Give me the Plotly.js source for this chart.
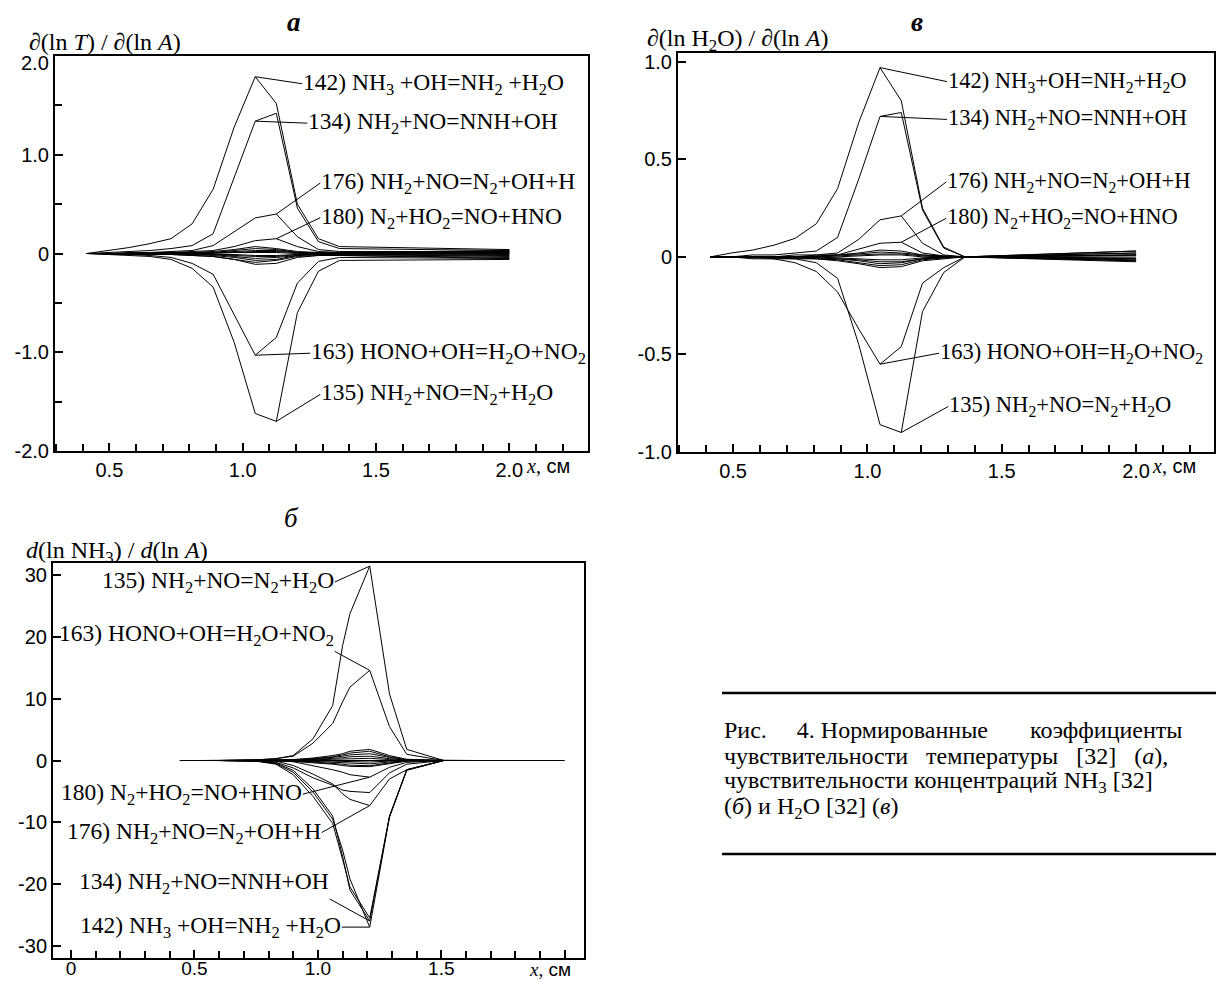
<!DOCTYPE html>
<html><head><meta charset="utf-8">
<script src="https://cdn.plot.ly/plotly-3.0.1.min.js"></script>
<style>html,body{margin:0;padding:0;background:#fff;}#chart{width:1216px;height:981px;}</style>
</head><body><div id="chart"></div>
<script>
// ===== Panel a (temperature) and panel в (H2O): common x grid, cm =====
const xGrid = [0.415, 0.494, 0.573, 0.652, 0.731, 0.810, 0.889, 0.968, 1.047, 1.126, 1.205, 1.284, 1.363, 2.0];

// Panel a: d(lnT)/d(lnA)
const T142 = [0, 0.03, 0.06, 0.10, 0.15, 0.30, 0.65, 1.28, 1.79, 1.52, 0.50, 0.15, 0.07, 0.04];
const T134 = [0, 0.01, 0.02, 0.03, 0.05, 0.08, 0.20, 0.77, 1.34, 1.42, 0.46, 0.12, 0.05, 0.03];
const T176 = [0, 0, 0.01, 0.01, 0.02, 0.03, 0.08, 0.22, 0.36, 0.40, 0.17, 0.04, 0.02, 0.02];
const T180 = [0, 0, 0, 0.01, 0.01, 0.02, 0.03, 0.07, 0.13, 0.15, 0.07, 0.02, 0.01, 0.01];
const T163 = [0, -0.01, -0.01, -0.02, -0.04, -0.10, -0.21, -0.62, -1.03, -0.85, -0.30, -0.08, -0.04, -0.05];
const T135 = [0, -0.01, -0.02, -0.03, -0.06, -0.15, -0.34, -0.90, -1.62, -1.70, -0.60, -0.18, -0.07, -0.06];
const Tsmall = [
  [0, 0, 0, 0, 0.01, 0.01, 0.02, 0.04, 0.07, 0.05, 0.02, 0.01, 0.01, 0.03],
  [0, 0, 0, 0, 0, 0.01, 0.01, 0.03, 0.05, 0.04, 0.01, 0.01, 0.01, 0.02],
  [0, 0, 0, 0, 0, 0, 0.01, 0.02, 0.03, 0.03, 0.01, 0, 0, 0.01],
  [0, 0, 0, 0, 0, 0, 0.01, 0.01, 0.02, 0.02, 0.01, 0, 0, 0.005],
  [0, 0, 0, 0, 0, 0, 0, 0.01, 0.01, 0.01, 0, 0, 0, 0],
  [0, 0, 0, 0, 0, 0, -0.01, -0.01, -0.02, -0.02, -0.01, 0, 0, -0.01],
  [0, 0, 0, 0, 0, -0.01, -0.01, -0.02, -0.03, -0.03, -0.01, -0.01, -0.01, -0.015],
  [0, 0, 0, 0, -0.01, -0.01, -0.01, -0.03, -0.05, -0.04, -0.02, -0.01, -0.01, -0.02],
  [0, 0, 0, -0.01, -0.01, -0.01, -0.02, -0.04, -0.07, -0.06, -0.02, -0.01, -0.01, -0.03],
  [0, 0, -0.01, -0.01, -0.01, -0.02, -0.03, -0.06, -0.09, -0.07, -0.03, -0.02, -0.02, -0.04],
  [0, 0, 0, -0.01, -0.01, -0.02, -0.03, -0.06, -0.11, -0.10, -0.04, -0.02, -0.02, -0.05]
];

// Panel в: d(lnH2O)/d(lnA)
const W142 = [0, 0.02, 0.035, 0.06, 0.095, 0.17, 0.35, 0.69, 0.97, 0.80, 0.25, 0.05, 0, 0.03];
const W134 = [0, 0, 0.01, 0.01, 0.02, 0.03, 0.10, 0.40, 0.72, 0.74, 0.24, 0.045, 0, 0.02];
const W176 = [0, 0, 0, 0, 0.01, 0.01, 0.02, 0.09, 0.19, 0.21, 0.07, 0.01, 0, 0.01];
const W180 = [0, 0, 0, 0, 0, 0.01, 0.01, 0.04, 0.07, 0.075, 0.02, 0.005, 0, 0.01];
const W163 = [0, 0, -0.01, -0.01, -0.03, -0.075, -0.18, -0.37, -0.55, -0.46, -0.135, -0.055, 0, -0.02];
const W135 = [0, 0, 0, -0.01, -0.01, -0.03, -0.11, -0.45, -0.86, -0.90, -0.28, -0.08, 0, -0.01];
const Wsmall = [
  [0, 0, 0, 0, 0, 0.005, 0.01, 0.02, 0.035, 0.03, 0.01, 0.005, 0, 0.03],
  [0, 0, 0, 0, 0, 0, 0.01, 0.015, 0.025, 0.02, 0.01, 0, 0, 0.02],
  [0, 0, 0, 0, 0, 0, 0.005, 0.01, 0.015, 0.015, 0.005, 0, 0, 0.01],
  [0, 0, 0, 0, 0, 0, 0, 0.005, 0.01, 0.01, 0, 0, 0, 0.005],
  [0, 0, 0, 0, 0, 0, -0.005, -0.01, -0.015, -0.015, -0.005, 0, 0, -0.005],
  [0, 0, 0, 0, 0, -0.005, -0.01, -0.015, -0.025, -0.025, -0.01, 0, 0, -0.01],
  [0, 0, 0, 0, -0.005, -0.005, -0.01, -0.02, -0.035, -0.03, -0.01, -0.005, 0, -0.015],
  [0, 0, 0, -0.005, -0.005, -0.01, -0.015, -0.03, -0.045, -0.04, -0.015, -0.005, 0, -0.02],
  [0, 0, -0.005, -0.005, -0.01, -0.01, -0.02, -0.035, -0.055, -0.05, -0.02, -0.01, 0, -0.025]
];

// ===== Panel б (NH3) =====
const xGridN = [0.44, 0.52, 0.60, 0.67, 0.75, 0.83, 0.90, 0.98, 1.06, 1.10, 1.13, 1.21, 1.29, 1.36, 1.51, 1.64, 2.0];
const N135 = [null, null, 0, 0, 0.1, 0.3, 0.8, 3.5, 8.9, 18.6, 23.8, 31.5, 10.8, 1.8, 0, 0, null];
const N163 = [null, null, 0, 0, 0.1, 0.3, 0.7, 2.8, 6.0, 9.5, 11.9, 14.6, 5.5, 1.0, 0, 0, null];
const N180 = [null, null, 0, 0, 0, 0, -0.2, -0.8, -1.5, -1.9, -2.3, -2.7, -1.1, -0.3, 0, 0, null];
const N176 = [null, null, 0, 0, 0, -0.1, -0.8, -2.2, -3.8, -5.4, -6.3, -7.3, -3.0, -1.5, 0, 0, null];
const N134 = [null, null, 0, 0, -0.1, -0.4, -1.6, -4.6, -9.0, -15.5, -21.0, -26.0, -9.0, -1.5, 0, 0, null];
const N142 = [null, null, 0, 0, -0.1, -0.5, -1.9, -5.1, -9.5, -14.5, -19.2, -27.0, -9.2, -1.6, 0, 0, null];
const Nflat = [0, 0, 0, 0, 0, 0, 0, 0, 0, 0, 0, 0, 0, 0, 0, 0, 0];
const Nsmall = [
  [null, null, 0, 0, -0.1, -0.6, -2.3, -5.8, -10.2, -16.0, -20.5, -25.5, -9.1, -1.5, 0, 0, null],
  [null, null, 0, 0, 0, -0.3, -1.2, -2.8, -4.0, -4.8, -5.0, -5.2, -2.0, -0.6, 0, 0, null],
  [null, 0, 0, 0, 0, 0.05, 0.15, 0.4, 0.8, 1.1, 1.5, 1.8, 0.8, 0.2, 0, 0, null],
  [null, 0, 0, 0, 0, 0.05, 0.1, 0.3, 0.6, 0.9, 1.2, 1.5, 0.6, 0.1, 0, 0, null],
  [null, null, 0, 0, 0, 0, 0.1, 0.2, 0.5, 0.7, 0.9, 1.1, 0.5, 0.1, 0, 0, null],
  [null, null, null, 0, 0, 0, 0.05, 0.15, 0.3, 0.45, 0.6, 0.7, 0.3, 0.05, 0, 0, null],
  [null, null, null, 0, 0, 0, 0, 0.1, 0.2, 0.25, 0.3, 0.35, 0.15, 0, 0, 0, null],
  [null, null, null, 0, 0, 0, 0, -0.05, -0.1, -0.15, -0.2, -0.25, -0.1, 0, 0, 0, null],
  [null, null, 0, 0, 0, 0, -0.05, -0.15, -0.3, -0.4, -0.5, -0.55, -0.25, -0.05, 0, 0, null],
  [null, null, 0, 0, 0, -0.05, -0.1, -0.25, -0.45, -0.6, -0.75, -0.85, -0.4, -0.1, 0, 0, null],
  [null, 0, 0, 0, 0, -0.05, -0.15, -0.35, -0.6, -0.8, -0.95, -1.0, -0.5, -0.1, 0, 0, null]
];

// Tick labels
const xTickVals = [0.5, 1.0, 1.5, 2.0];
const xTickText = ['0.5', '1.0', '1.5', '2.0'];
const yTickValsA = [-2, -1, 0, 1, 2];
const yTickTextA = ['-2.0', '-1.0', '0', '1.0', ''];
const yTopLabelA = '2.0';
const yTickValsW = [-1, -0.5, 0, 0.5, 1];
const yTickTextW = ['-1.0', '-0.5', '0', '0.5', '1.0'];
const xTickValsN = [0, 0.5, 1.0, 1.5, 2.0];
const xTickTextN = ['0', '0.5', '1.0', '1.5', ''];
const yTickValsN = [-30, -20, -10, 0, 10, 20, 30];
const yTickTextN = ['-30', '-20', '-10', '0', '10', '20', '30'];

// Reaction labels
const R142a = '142) NH<sub>3</sub> +OH=NH<sub>2</sub> +H<sub>2</sub>O';
const R142w = '142) NH<sub>3</sub>+OH=NH<sub>2</sub>+H<sub>2</sub>O';
const R134 = '134) NH<sub>2</sub>+NO=NNH+OH';
const R176 = '176) NH<sub>2</sub>+NO=N<sub>2</sub>+OH+H';
const R180 = '180) N<sub>2</sub>+HO<sub>2</sub>=NO+HNO';
const R163 = '163) HONO+OH=H<sub>2</sub>O+NO<sub>2</sub>';
const R135 = '135) NH<sub>2</sub>+NO=N<sub>2</sub>+H<sub>2</sub>O';

// ===== build =====
const W = 1216, H = 981;
const SERIF = 'Liberation Serif, Times New Roman, serif';
const SANS = 'Liberation Sans, Arial, sans-serif';
const TICK = 20;
const traces = [];
function addLines(xs, list, xa, ya) {
  list.forEach(ys => traces.push({x: xs, y: ys, xaxis: xa, yaxis: ya, type: 'scatter', mode: 'lines',
    line: {color: '#000', width: 1}, hoverinfo: 'skip', connectgaps: false}));
}
addLines(xGrid, Tsmall, 'x', 'y');
addLines(xGrid, [T142, T134, T176, T180, T163, T135], 'x', 'y');
addLines(xGrid, Wsmall, 'x2', 'y2');
addLines(xGrid, [W142, W134, W176, W180, W163, W135], 'x2', 'y2');
addLines(xGridN, [Nflat], 'x3', 'y3');
addLines(xGridN, Nsmall, 'x3', 'y3');
addLines(xGridN, [N135, N163, N180, N176, N134, N142], 'x3', 'y3');

function xAxis(domain, range, tv, tt, anchor, standoff, fsize) {
  return {domain: domain, range: range, anchor: anchor, showline: true, mirror: true, linewidth: 2, linecolor: '#000',
    ticks: 'inside', ticklen: 8, tickwidth: 2, tickcolor: '#000', tickmode: 'array', tickvals: tv, ticktext: tt,
    ticklabelstandoff: standoff || 0,
    minor: {tickmode: 'linear', tick0: 0, dtick: 0.1, ticks: 'inside', ticklen: 7, tickwidth: 2, tickcolor: '#000', showgrid: false},
    showgrid: false, zeroline: false, tickfont: {family: SANS, size: fsize || TICK, color: '#000'}, fixedrange: true};
}
function yAxis(domain, range, tv, tt, anchor, minorDt) {
  const a = {domain: domain, range: range, anchor: anchor, showline: true, mirror: true, linewidth: 2, linecolor: '#000',
    ticks: 'inside', ticklen: 8, tickwidth: 2, tickcolor: '#000', tickmode: 'array', tickvals: tv, ticktext: tt,
    showgrid: false, zeroline: false, tickfont: {family: SANS, size: TICK, color: '#000'}, fixedrange: true};
  if (minorDt) a.minor = {tickmode: 'linear', tick0: 0, dtick: minorDt, ticks: 'inside', ticklen: 7, tickwidth: 2, tickcolor: '#000', showgrid: false};
  return a;
}

const layout = {
  width: W, height: H, margin: {l: 0, r: 0, t: 0, b: 0}, showlegend: false,
  paper_bgcolor: '#fff', plot_bgcolor: '#fff',
  xaxis: xAxis([55 / W, 588 / W], [0.296, 2.295], xTickVals, xTickText, 'y'),
  yaxis: yAxis([1 - 451 / H, 1 - 56 / H], [-2.0, 2.0], yTickValsA, yTickTextA, 'x', 0.5),
  xaxis2: xAxis([678 / W, 1214 / W], [0.295, 2.29], xTickVals, xTickText, 'y2'),
  yaxis2: yAxis([1 - 452 / H, 1 - 53 / H], [-1.0, 1.045], yTickValsW, yTickTextW, 'x2', 0),
  xaxis3: xAxis([53 / W, 584 / W], [-0.073, 2.078], xTickValsN, xTickTextN, 'y3', -8, 19),
  yaxis3: yAxis([1 - 958 / H, 1 - 563 / H], [-32, 32], yTickValsN, yTickTextN, 'x3', 0),
  annotations: [], shapes: []
};

const LF = {family: SERIF, size: 23.5, color: '#000'};
const LFW = {family: SERIF, size: 22.5, color: '#000'};
function lab(xr, yr, xs, ys, i, text, ax, ay, xanchor, yanchor, font) {
  layout.annotations.push({xref: xr, yref: yr, x: xs[i], y: ys[i], text: text, showarrow: true, arrowhead: 0,
    arrowwidth: 1, arrowcolor: '#000', ax: ax, ay: ay, xanchor: xanchor, yanchor: yanchor, font: font || LF, borderpad: 0});
}
// panel a
lab('x', 'y', xGrid, T142, 8, R142a, 47, 7, 'left', 'middle');
lab('x', 'y', xGrid, T134, 8, R134, 52, 2, 'left', 'middle');
lab('x', 'y', xGrid, T176, 9, R176, 44, -31, 'left', 'middle');
lab('x', 'y', xGrid, T180, 9, R180, 44, -21, 'left', 'middle');
lab('x', 'y', xGrid, T163, 8, R163, 55, -2, 'left', 'middle');
lab('x', 'y', xGrid, T135, 9, R135, 44, -27, 'left', 'middle');
// panel в
lab('x2', 'y2', xGrid, W142, 8, R142w, 67, 14, 'left', 'middle', LFW);
lab('x2', 'y2', xGrid, W134, 8, R134, 67, 3, 'left', 'middle', LFW);
lab('x2', 'y2', xGrid, W176, 9, R176, 45, -34, 'left', 'middle', LFW);
lab('x2', 'y2', xGrid, W180, 9, R180, 45, -24, 'left', 'middle', LFW);
lab('x2', 'y2', xGrid, W163, 8, R163, 59, -11, 'left', 'middle', LFW);
lab('x2', 'y2', xGrid, W135, 9, R135, 47, -26, 'left', 'middle', LFW);
// panel б
lab('x3', 'y3', xGridN, N135, 11, R135, -35, 16, 'right', 'middle');
lab('x3', 'y3', xGridN, N163, 11, R163, -35, -19, 'right', 'bottom');
lab('x3', 'y3', xGridN, N180, 11, R180, -67, 17, 'right', 'middle');
lab('x3', 'y3', xGridN, N176, 11, R176, -48, 27, 'right', 'middle');
lab('x3', 'y3', xGridN, N134, 11, R134, -40, -22, 'right', 'bottom');
lab('x3', 'y3', xGridN, N142, 11, R142a, -28, 0, 'right', 'middle');

function ptext(xp, yp, text, size, xanchor, family) {
  layout.annotations.push({xref: 'paper', yref: 'paper', x: xp / W, y: 1 - yp / H, text: text, showarrow: false,
    xanchor: xanchor || 'left', yanchor: 'middle', font: {family: family || SERIF, size: size, color: '#000'}});
}
// top tick label of panel a, set just below the frame corner as in the original
ptext(51, 63, yTopLabelA, TICK, 'right', SANS);
// panel titles
ptext(294, 22, '<b><i>a</i></b>', 27, 'center');
ptext(917, 22, '<b><i>в</i></b>', 27, 'center');
ptext(291, 518, '<i>б</i>', 27, 'center');
// y-axis titles
ptext(27, 42, '∂(ln <i>T</i>) / ∂(ln <i>A</i>)', 24);
ptext(645, 40, '∂(ln H<sub>2</sub>O) / ∂(ln <i>A</i>)', 24);
ptext(24, 552, '<i>d</i>(ln NH<sub>3</sub>) / <i>d</i>(ln <i>A</i>)', 24);
// x-axis units
const XU = '<span style="font-family:Liberation Serif"><i>x</i>,</span> см';
ptext(524, 466, XU, 20, 'left', SANS);
ptext(1150, 466, XU, 20, 'left', SANS);
ptext(527, 969, XU, 19, 'left', SANS);
// caption
const NB = '\u00a0';
const CF = 24;
ptext(722, 730, 'Рис.' + NB.repeat(5) + '4. Нормированные' + NB.repeat(7) + 'коэффициенты', CF);
ptext(722, 756, 'чувствительности' + NB.repeat(3) + 'температуры' + NB.repeat(3) + '[32]' + NB.repeat(3) + '(<i>а</i>),', CF);
ptext(722, 782, 'чувствительности концентраций NH<sub>3</sub> [32]', CF);
ptext(722, 808, '(<i>б</i>) и H<sub>2</sub>O [32] (<i>в</i>)', CF);
layout.shapes.push({type: 'line', xref: 'paper', yref: 'paper', x0: 722 / W, x1: 1, y0: 1 - 693 / H, y1: 1 - 693 / H, line: {color: '#000', width: 2.5}});
layout.shapes.push({type: 'line', xref: 'paper', yref: 'paper', x0: 722 / W, x1: 1, y0: 1 - 854 / H, y1: 1 - 854 / H, line: {color: '#000', width: 2.5}});

Plotly.newPlot('chart', traces, layout, {staticPlot: true, displayModeBar: false});
</script></body></html>
